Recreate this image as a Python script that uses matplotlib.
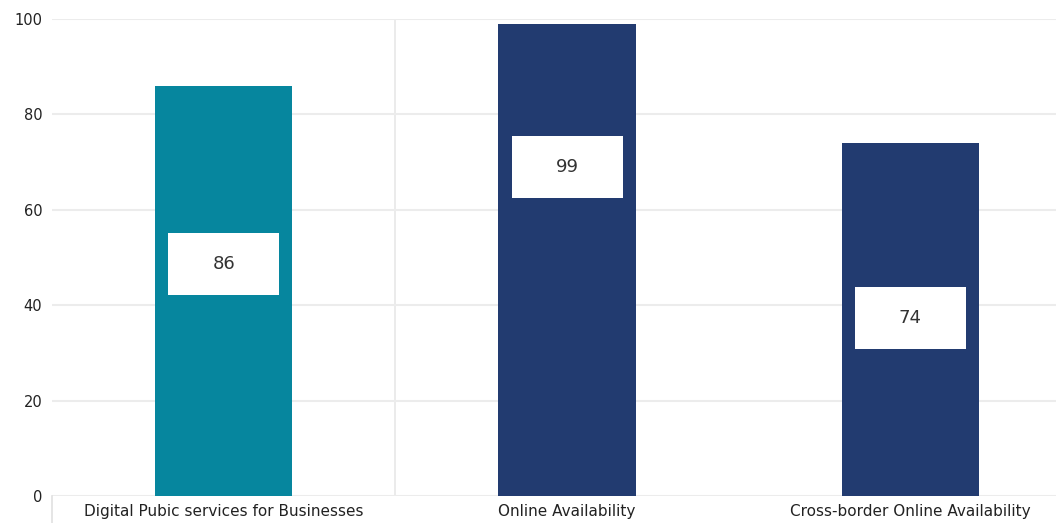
import matplotlib.pyplot as plt
from matplotlib.patches import Rectangle
from matplotlib.lines import Line2D

categories = ["Digital Pubic services for Businesses", "Online Availability",
              "Cross-border Online Availability"]
values = [86, 99, 74]
colors = ["#06869e", "#223b70", "#223b70"]
# where the white value boxes sit (centre, in data units)
label_pos = [48.6, 69.0, 37.3]

fig = plt.figure(figsize=(10.56, 5.23), dpi=100)
ax = fig.add_axes([52 / 1056, 1 - 496 / 523, 1 - 52 / 1056, (496 - 19) / 523])

x = list(range(len(categories)))
ax.bar(x, values, width=0.40, color=colors, zorder=2)

box_w, box_h = 0.323, 13.0
for xi, v, ly in zip(x, values, label_pos):
    ax.add_patch(Rectangle((xi - box_w / 2, ly - box_h / 2), box_w, box_h,
                           facecolor="white", edgecolor="none", zorder=3))
    ax.text(xi, ly, str(v), ha="center", va="center", fontsize=13,
            color="#333333", zorder=4)

ax.set_xlim(-0.5, 2.424)
ax.set_ylim(0, 100)
ax.set_yticks([0, 20, 40, 60, 80, 100])
ax.set_xticks(x)
ax.set_xticklabels(categories)
ax.tick_params(axis="y", length=0, labelsize=10.5, colors="#222222", pad=7)
ax.tick_params(axis="x", length=0, labelsize=11, colors="#222222", pad=6)

ax.grid(axis="y", color="#ececec", linewidth=1.5, zorder=0)
ax.axvline(0.5, color="#e8e8e8", linewidth=1.2, zorder=0)
for s in ax.spines.values():
    s.set_visible(False)
ax.add_line(Line2D([0, 0], [0, -0.06], transform=ax.transAxes, color="#e0e0e0",
                   linewidth=1.2, clip_on=False))

fig.savefig("out.png", dpi=100)
